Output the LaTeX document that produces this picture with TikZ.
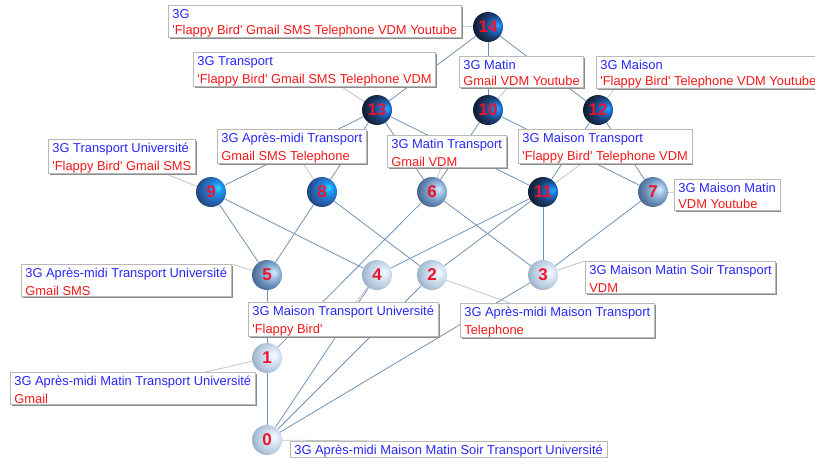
\documentclass[tikz,border=0pt]{standalone}
\usepackage{fontspec}
\setmainfont{Liberation Sans}[Ligatures=TeXOff]
\usetikzlibrary{shadows,backgrounds}

\definecolor{attrblue}{RGB}{40,40,250}
\definecolor{objred}{RGB}{245,25,25}
\definecolor{numred}{RGB}{235,20,45}
\definecolor{edgeblue}{RGB}{112,146,184}
\definecolor{linkgray}{RGB}{196,196,196}

\pgfdeclareradialshading{darkball}{\pgfpoint{17bp}{3bp}}{rgb(0bp)=(0.15,0.65,1); rgb(8bp)=(0.1,0.45,0.85); rgb(18bp)=(0.1,0.25,0.45); rgb(30bp)=(0.07,0.12,0.2); rgb(50bp)=(0.05,0.08,0.13)}
\pgfdeclareradialshading{blueball}{\pgfpoint{12bp}{8bp}}{rgb(0bp)=(0.2,0.85,1); rgb(8bp)=(0.1,0.6,0.95); rgb(20bp)=(0.15,0.4,0.72); rgb(32bp)=(0.12,0.25,0.42); rgb(50bp)=(0.1,0.18,0.3)}
\pgfdeclareradialshading{steelball}{\pgfpoint{12bp}{5bp}}{rgb(0bp)=(0.85,0.92,0.98); rgb(8bp)=(0.64,0.77,0.9); rgb(22bp)=(0.38,0.53,0.7); rgb(34bp)=(0.24,0.34,0.47); rgb(50bp)=(0.2,0.28,0.4)}
\pgfdeclareradialshading{paleball}{\pgfpoint{12bp}{5bp}}{rgb(0bp)=(0.97,0.98,1); rgb(8bp)=(0.88,0.92,0.97); rgb(22bp)=(0.72,0.8,0.88); rgb(34bp)=(0.55,0.63,0.73); rgb(50bp)=(0.5,0.58,0.68)}

\newcommand\lstrut{\rule[-1.4pt]{0pt}{14.8pt}}
\newcommand\conceptlabel[2]{\textcolor{attrblue}{\lstrut#1}\\\textcolor{objred}{\lstrut#2}}

\begin{document}
\begin{tikzpicture}[x=1pt, y=-1pt,
      concept/.style={circle, minimum size=30pt, inner sep=0pt, shade, shading=#1, text=numred, font=\fontsize{17}{17}\selectfont\bfseries},
      intent/.style={draw=gray!55, line width=0.7pt, fill=white, anchor=north west, align=left, inner xsep=4pt, inner ysep=0.2pt, font=\fontsize{12.9}{16}\selectfont, drop shadow={shadow xshift=1.6pt, shadow yshift=-1.6pt, fill=black!45, opacity=1}},
      lattice/.style={draw=edgeblue, line width=0.8pt},
      link/.style={draw=linkgray, line width=0.8pt}]
      \useasboundingbox (0, 0) rectangle (815, 458);
      \clip (0, 0) rectangle (815, 458);
      \node[concept=darkball] (n14) at (488, 27) {14};
      \node[concept=darkball] (n13) at (377, 110) {13};
      \node[concept=darkball] (n10) at (488, 110) {10};
      \node[concept=darkball] (n12) at (598, 110) {12};
      \node[concept=blueball] (n9) at (211, 192) {9};
      \node[concept=blueball] (n8) at (322, 192) {8};
      \node[concept=steelball] (n6) at (432, 192) {6};
      \node[concept=darkball] (n11) at (543, 192) {11};
      \node[concept=steelball] (n7) at (653, 192) {7};
      \node[concept=steelball] (n5) at (267, 275) {5};
      \node[concept=paleball] (n4) at (377, 275) {4};
      \node[concept=paleball] (n2) at (432, 275) {2};
      \node[concept=paleball] (n3) at (543, 275) {3};
      \node[concept=paleball] (n1) at (267, 358) {1};
      \node[concept=paleball] (n0) at (267, 440) {0};
      \node[intent] (l14) at (168, 5) {\conceptlabel{3G}{'Flappy Bird' Gmail SMS Telephone VDM Youtube}};
      \node[intent] (l13) at (193, 52) {\conceptlabel{3G Transport}{'Flappy Bird' Gmail SMS Telephone VDM}};
      \node[intent] (l10) at (459, 56) {\conceptlabel{3G Matin}{Gmail VDM Youtube}};
      \node[intent] (l12) at (596, 56) {\conceptlabel{3G Maison}{'Flappy Bird' Telephone VDM Youtube}};
      \node[intent] (l9) at (48, 139) {\conceptlabel{3G Transport Université}{'Flappy Bird' Gmail SMS}};
      \node[intent] (l8) at (217, 129) {\conceptlabel{3G Après-midi Transport}{Gmail SMS Telephone}};
      \node[intent] (l6) at (387, 135) {\conceptlabel{3G Matin Transport}{Gmail VDM}};
      \node[intent] (l11) at (518, 129) {\conceptlabel{3G Maison Transport}{'Flappy Bird' Telephone VDM}};
      \node[intent] (l7) at (674, 179) {\conceptlabel{3G Maison Matin}{VDM Youtube}};
      \node[intent] (l5) at (21, 264) {\conceptlabel{3G Après-midi Transport Université}{Gmail SMS}};
      \node[intent] (l4) at (248, 302) {\conceptlabel{3G Maison Transport Université}{'Flappy Bird'}};
      \node[intent] (l2) at (460, 303) {\conceptlabel{3G Après-midi Maison Transport}{Telephone}};
      \node[intent] (l3) at (585, 261) {\conceptlabel{3G Maison Matin Soir Transport}{VDM}};
      \node[intent] (l1) at (10, 372) {\conceptlabel{3G Après-midi Matin Transport Université}{Gmail}};
      \node[intent] (l0) at (290, 441) {\textcolor{attrblue}{\lstrut 3G Après-midi Maison Matin Soir Transport Université}};
      \begin{scope}[on background layer]
      \draw[lattice] (n14) -- (n13);
      \draw[lattice] (n14) -- (n10);
      \draw[lattice] (n14) -- (n12);
      \draw[lattice] (n13) -- (n9);
      \draw[lattice] (n13) -- (n8);
      \draw[lattice] (n13) -- (n6);
      \draw[lattice] (n13) -- (n11);
      \draw[lattice] (n10) -- (n6);
      \draw[lattice] (n10) -- (n7);
      \draw[lattice] (n12) -- (n11);
      \draw[lattice] (n12) -- (n7);
      \draw[lattice] (n9) -- (n5);
      \draw[lattice] (n9) -- (n4);
      \draw[lattice] (n8) -- (n5);
      \draw[lattice] (n8) -- (n2);
      \draw[lattice] (n6) -- (n1);
      \draw[lattice] (n6) -- (n3);
      \draw[lattice] (n11) -- (n4);
      \draw[lattice] (n11) -- (n2);
      \draw[lattice] (n11) -- (n3);
      \draw[lattice] (n7) -- (n3);
      \draw[lattice] (n5) -- (n1);
      \draw[lattice] (n4) -- (n0);
      \draw[lattice] (n2) -- (n0);
      \draw[lattice] (n3) -- (n0);
      \draw[lattice] (n1) -- (n0);
      \draw[link] (n14) -- (l14);
      \draw[link] (n13) -- (l13);
      \draw[link] (n10) -- (l10);
      \draw[link] (n12) -- (l12.190);
      \draw[link] (n9) -- (l9);
      \draw[link] (n8) -- (l8);
      \draw[link] (n6) -- (l6);
      \draw[link] (n11) -- (l11);
      \draw[link] (n7) -- (l7);
      \draw[link] (n5) -- (l5.north east);
      \draw[link] (n4) -- (l4);
      \draw[link] (n2) -- (l2);
      \draw[link] (n3) -- (l3.north west);
      \draw[link] (n1) -- (l1);
      \draw[link] (n0) -- (l0.173);
      \end{scope}
\end{tikzpicture}
\end{document}
